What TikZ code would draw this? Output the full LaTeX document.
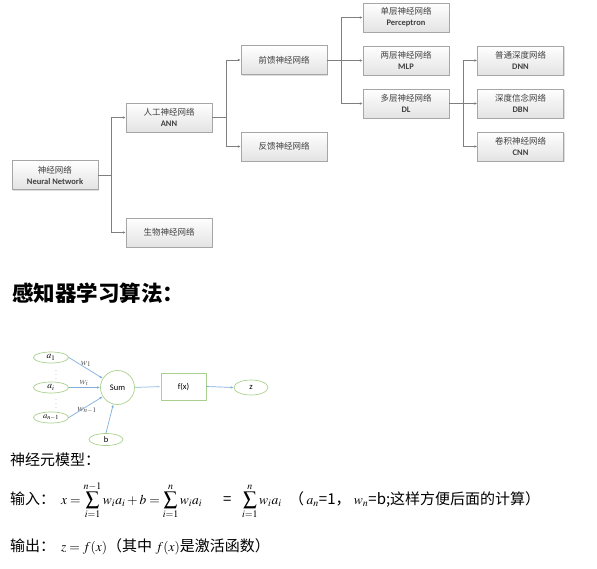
\documentclass[tikz,border=0pt]{standalone}
\usepackage{mathptmx}
\usepackage{fontspec}
\setmainfont{Liberation Serif}
\newfontfamily\cjk{Noto Sans CJK SC}
\newfontfamily\calib{Carlito}
\usetikzlibrary{shapes.geometric,shadows,arrows.meta}
\definecolor{boxline}{HTML}{A6A6A6}
\definecolor{conline}{HTML}{7F7F7F}
\definecolor{grn}{HTML}{A9D18E}
\definecolor{blu}{HTML}{7FAEDD}
\begin{document}
\begin{tikzpicture}[x=1pt,y=-1pt,
  treebox/.style={draw=boxline, top color=white, bottom color=gray!22,
    minimum width=86pt, minimum height=29pt, inner sep=0pt, align=center,
    font=\fontsize{8.5}{11}\selectfont, text=black!75,
    drop shadow={shadow xshift=1pt,shadow yshift=-1pt,fill=gray!45,opacity=.6}},
  conn/.style={draw=conline, line width=0.7pt, -{Latex[length=3pt,width=2.6pt]}},
  ell/.style={ellipse, draw=grn, line width=0.7pt, minimum width=35pt, minimum height=11pt, inner sep=0pt},
  barrow/.style={draw=blu, line width=0.7pt, -{Latex[length=3pt,width=2.4pt]}},
  wlab/.style={font=\fontsize{9.5}{9}\selectfont, text=black!70, inner sep=0pt},
  dots/.style={inner sep=0pt, text=black!50, font=\fontsize{6}{6}\selectfont},
  btext/.style={anchor=base west, inner sep=0pt, font=\cjk\fontsize{15}{17}\selectfont},
  mtext/.style={anchor=base west, inner sep=0pt, font=\fontsize{13.5}{16}\selectfont}
]
\useasboundingbox (0,0) rectangle (597,568);
% tree
\node[treebox] (nn)  at (55,175)   {{\cjk 神经网络}\\{\calib\bfseries Neural Network}};
\node[treebox] (ann) at (169,117.5) {{\cjk 人工神经网络}\\{\calib\bfseries ANN}};
\node[treebox] (bio) at (169,232.5) {{\cjk 生物神经网络}};
\node[treebox] (ff)  at (284,60)   {{\cjk 前馈神经网络}};
\node[treebox] (fb)  at (284,146.5) {{\cjk 反馈神经网络}};
\node[treebox] (sl)  at (406,17.5) {{\cjk 单层神经网络}\\{\calib\bfseries Perceptron}};
\node[treebox] (ml)  at (406,60.5) {{\cjk 两层神经网络}\\{\calib\bfseries MLP}};
\node[treebox] (dl)  at (406,103.5) {{\cjk 多层神经网络}\\{\calib\bfseries DL}};
\node[treebox] (dnn) at (520.5,60.5) {{\cjk 普通深度网络}\\{\calib\bfseries DNN}};
\node[treebox] (dbn) at (520.5,103.5) {{\cjk 深度信念网络}\\{\calib\bfseries DBN}};
\node[treebox] (cnn) at (520.5,146.5) {{\cjk 卷积神经网络}\\{\calib\bfseries CNN}};
\coordinate (j1) at ([xshift=13pt]nn.east);
\coordinate (j2) at ([xshift=14pt]ann.east);
\coordinate (j3) at ([xshift=14pt]ff.east);
\coordinate (j4) at ([xshift=14pt]dl.east);
\draw[conline,line width=0.7pt] (nn.east) -- (j1) (ann.east) -- (j2) (ff.east) -- (j3) (dl.east) -- (j4);
\draw[conn] (j1) |- (ann.west);
\draw[conn] (j1) |- (bio.west);
\draw[conn] (j2) |- (ff.west);
\draw[conn] (j2) |- (fb.west);
\draw[conn] (j3) |- (sl.west);
\draw[conn] (j3) |- (ml.west);
\draw[conn] (j3) |- (dl.west);
\draw[conn] (j4) |- (dnn.west);
\draw[conn] (j4) |- (dbn.west);
\draw[conn] (j4) |- (cnn.west);
% title
\node[anchor=base west, inner sep=0pt, font=\cjk\bfseries\fontsize{21.5}{24}\selectfont] (title) at (12,301) {感知器学习算法：};
% perceptron
\node[ell] (a1) at (51,357.5) {\fontsize{9.5}{9}\selectfont$a_1$};
\node[ell] (ai) at (51,387.5) {\fontsize{9.5}{9}\selectfont$a_i$};
\node[ell] (an) at (51,417.5) {\fontsize{8.5}{8}\selectfont$a_{n-1}$};
\node[dots] (d1) at (56,372) {$\vdots$};
\node[dots] (d2) at (56,401) {$\vdots$};
\node[circle, draw=grn, line width=0.7pt, minimum size=34pt, inner sep=0pt, font=\calib\fontsize{8.5}{9}\selectfont] (sum) at (117.5,387.5) {Sum};
\node[draw=grn, line width=0.8pt, minimum width=45pt, minimum height=27pt, inner sep=0pt, font=\calib\fontsize{8.5}{9}\selectfont] (fx) at (183.5,386.5) {f(x)};
\node[ell, minimum width=34pt, minimum height=15pt, font=\calib\fontsize{8.5}{9}\selectfont] (z) at (251,387.5) {z};
\node[ell, minimum width=34pt, minimum height=12pt, font=\calib\fontsize{8.5}{9}\selectfont] (b) at (106,439.5) {b};
\draw[barrow] (a1.east) -- (sum);
\draw[barrow] (ai.east) -- (sum);
\draw[barrow] (an.east) -- (sum);
\draw[barrow] (b.north) -- (sum);
\draw[barrow, line width=1pt, draw=blu!60] (sum.east) -- (fx.west);
\draw[barrow] (fx.east) -- (z.west);
\node[wlab] (w1) at (86,364) {$w_1$};
\node[wlab] (wi) at (84,383) {$w_i$};
\node[wlab] (wn) at (87,410) {$w_{n-1}$};
% bottom text
\node[btext] (model) at (10,465) {神经元模型：};
\node[btext] (inlab) at (10,504) {输入：};
\node[mtext] (f1) at (61,504) {$\displaystyle x=\sum_{i=1}^{n-1} w_i a_i + b = \sum_{i=1}^{n} w_i a_i$};
\node[btext] (eq) at (223,504) {=};
\node[btext] (f2) at (242,504) {\fontsize{13.5}{16}\selectfont$\displaystyle \sum_{i=1}^{n} w_i a_i$};
\node[btext] (note) at (289,504) {（\,{\fontsize{13.5}{16}\selectfont$a_n$}=1，\ {\fontsize{13.5}{16}\selectfont$w_n$}=b;这样方便后面的计算）};
\node[btext] (outlab) at (10,551) {输出：};
\node[btext] (f3) at (61,551) {{\fontsize{13.5}{16}\selectfont$z=f(x)$}（其中 {\fontsize{13.5}{16}\selectfont$f(x)$}是激活函数）};
\end{tikzpicture}
\end{document}
